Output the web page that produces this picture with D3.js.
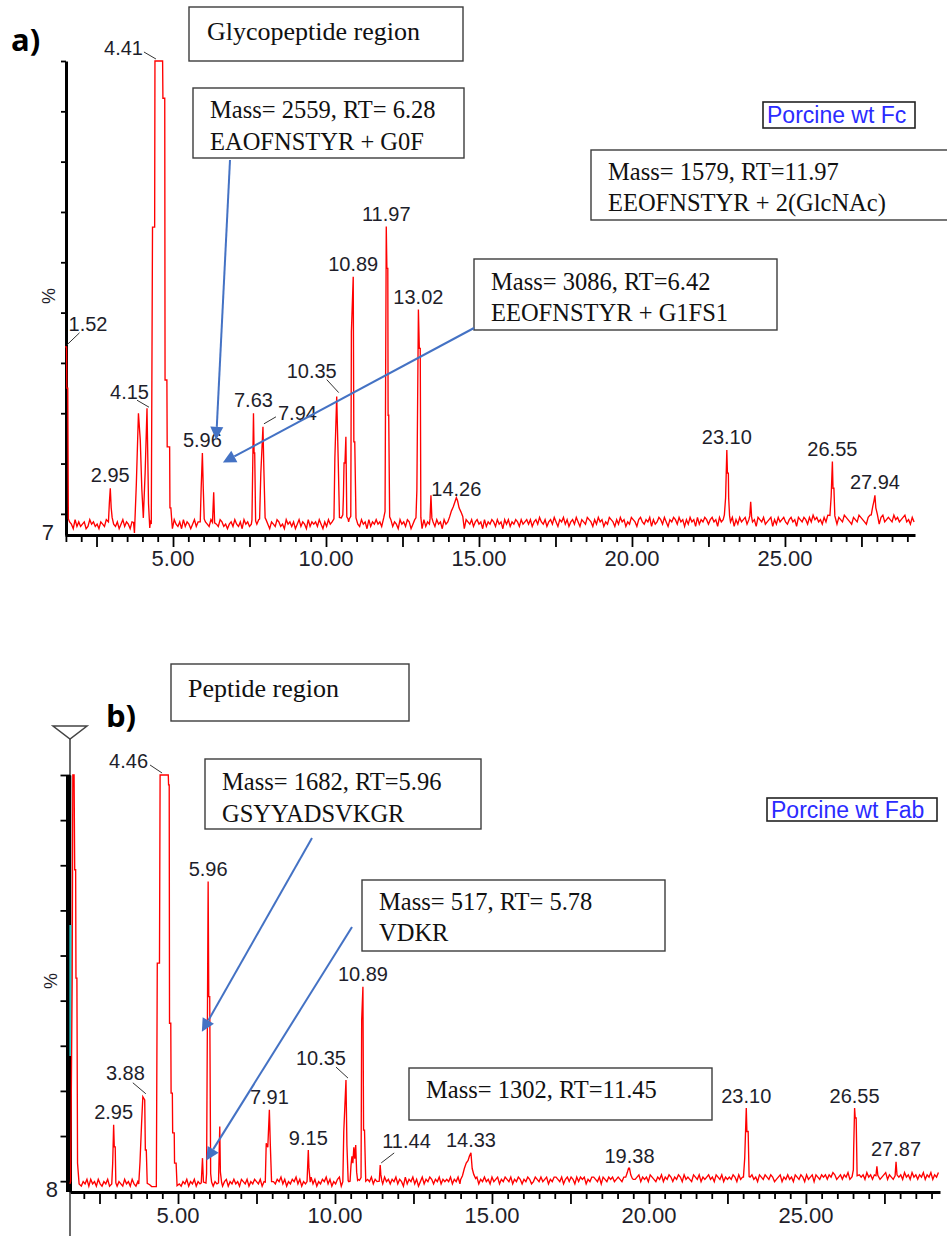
<!DOCTYPE html>
<html>
<head>
<meta charset="utf-8">
<script src="https://cdn.jsdelivr.net/npm/d3@7"></script>
<style>
  html, body { margin: 0; padding: 0; background: #fff; }
  svg { display: block; }
</style>
</head>
<body>
<svg id="chart" width="947" height="1236"></svg>
<script>
// ---------------- data ----------------
// y-axis tick values (% intensity) and labelled retention-time ticks (min)
const yTickValues = [10, 20, 30, 40, 50, 60, 70, 80, 90, 100];
const xLabelValues = [5, 10, 15, 20, 25];

// Baseline noise, one digit per scan (0.06 min apart); intensity = floor + digit * unit
const noiseFloorA = 6.6, noiseUnitA = 0.45, scanStartA = 1.50, scanStep = 0.06;
const noiseA = [
  3,2,4,3,1,5,2,4,2,3, 4,1,2,5,3,4,2,3,1,4, 3,2,5,1,4,2,3,2,4,1, 3,5,2,4,3,1,4,2,5,3, 1,4,2,3,5,2,4,1,3,2,
  4,2,3,1,5,3,2,4,1,5, 3,2,4,1,5,2,4,3,1,3, 5,2,4,2,3,1,4,3,2,5, 1,4,3,2,5,4,2,3,1,3, 4,2,5,3,2,4,1,5,3,4,
  2,3,1,4,3,5,2,4,2,5, 3,1,4,3,2,5,4,2,3,1, 5,3,4,2,4,1,3,5,2,4, 3,1,5,2,4,3,4,2,5,3, 1,4,2,5,3,4,2,3,1,5,
  4,3,5,2,4,1,3,5,4,3, 2,5,3,4,1,5,2,4,3,5, 3,4,2,5,1,4,3,5,2,4, 3,1,5,3,4,2,5,4,1,3, 5,2,4,3,1,5,2,4,3,5,
  4,2,5,3,4,1,5,3,4,2, 5,4,3,5,2,4,3,1,5,4, 3,5,2,4,5,3,4,1,5,2, 4,3,5,4,2,5,3,4,1,5, 3,5,2,4,3,5,4,2,5,3,
  4,5,3,5,2,4,5,3,6,4, 3,5,2,4,5,3,6,4,2,5, 4,6,3,5,2,4,5,3,6,4, 2,5,4,3,6,5,4,2,5,3, 6,4,5,2,4,3,6,5,4,2,
  5,3,6,4,5,2,4,3,6,5, 4,2,5,6,4,3,5,4,6,2, 5,3,4,6,5,3,6,4,2,5, 4,6,5,3,6,4,5,2,5,3, 6,4,5,2,6,3,5,4,6,5,
  3,5,6,4,5,2,6,4,5,3, 6,5,4,6,2,5,3,6,4,5, 6,3,5,6,4,5,2,6,5,4, 6,3,4,5,6,2,5,3,6,4, 5,6,4,3,5,6,4,5,2,6,
  5,4,6,5,3,6,4,7,5,6, 4,5,3,6,4,7,5,6,4,5, 3,6,5,4,7,6,5,4,3,6, 5,4,7,6,5,4,3,6,7,5, 4,6,5,3,6,7,4,5,6,5,
  4,7,5,6,4,5,6,7,4,5, 3,6,4
];

const noiseFloorB = 8.4, noiseUnitB = 0.5, scanStartB = 1.56;
const noiseB = [
  2,1,3,1,4,2,1,3,2,4, 1,4,2,3,1,4,2,1,3,2, 4,1,3,2,4,1,3,2,1,4, 2,3,1,4,2,1,3,2,4,1, 3,2,1,4,2,3,1,4,2,3,
  1,3,2,4,2,1,3,4,2,1, 3,2,4,1,3,2,4,1,3,2, 4,2,1,3,2,4,1,3,2,4, 2,1,3,4,1,3,2,4,2,3, 1,4,3,2,4,1,3,2,4,3,
  2,4,1,3,5,2,4,1,3,2, 4,3,5,2,4,1,3,2,4,3, 5,2,4,1,3,2,4,3,5,2, 4,1,3,2,4,3,5,2,4,1, 3,2,4,5,1,3,2,4,3,5,
  3,5,2,4,1,3,5,2,4,3, 5,2,4,3,1,4,2,5,3,4, 2,4,3,5,2,4,3,1,5,2, 4,3,5,2,4,1,3,5,2,4, 3,5,4,2,4,3,5,2,4,3,
  4,3,5,2,4,3,5,2,4,3, 5,4,2,5,3,4,5,2,4,3, 5,3,4,2,5,3,4,5,2,4, 3,5,4,3,5,2,4,3,5,4, 2,4,3,5,4,2,3,5,4,3,
  5,3,4,5,2,4,3,5,5,4, 3,5,2,4,5,3,5,4,2,5, 3,5,4,5,2,4,3,5,5,4, 3,5,2,5,4,3,5,4,5,3, 4,5,4,3,5,5,4,3,5,4,
  4,5,6,3,5,4,5,3,6,5, 4,3,5,4,6,3,5,4,6,5, 3,5,4,6,5,3,6,4,5,4, 3,6,5,4,6,3,5,4,5,6, 4,5,3,6,5,4,6,3,5,4,
  5,4,6,5,3,6,4,5,4,6, 3,5,6,4,5,3,6,5,4,6, 5,4,6,5,3,4,5,6,3,5, 4,6,4,5,3,6,5,4,6,5, 3,6,4,5,6,3,6,5,4,6,
  5,6,4,6,5,7,6,4,5,6, 4,6,5,7,4,6,5,4,7,6, 5,6,4,7,5,6,4,6,5,7, 4,5,6,7,4,6,5,4,7,6, 5,6,4,7,5,6,4,7,5,6,
  4,6,5,7,4,6,5,7,4,6, 5,7
];

// Peaks: retention time of the labelled apex, its label, and the scan profile [min, %]
const peaksA = [
  { rt: 1.52,  label: "1.52",  pts: [[1.47,43.2],[1.52,43.2],[1.53,35.0],[1.56,35.0],[1.58,9.0]] },
  { rt: 2.95,  label: "2.95",  pts: [[2.89,8.4],[2.92,12.2],[2.95,15.1],[2.98,11.2],[3.01,9.3]] },
  { rt: 4.15,  label: "4.15",  pts: [[3.71,8.3],[3.74,6.2],[3.80,15.7],[3.87,30.0],[3.93,24.7],[3.98,15.0],[4.03,9.2],[4.09,18.3],[4.15,31.0],[4.20,12.0],[4.24,7.2]] },
  { rt: 4.41,  label: "4.41",  pts: [[4.29,8.0],[4.33,67.0],[4.40,67.0],[4.41,100],[4.66,100],[4.67,92.6],[4.73,92.6],[4.74,36.6],[4.80,36.6],[4.81,23.3],[4.89,23.3],[4.90,11.2],[4.93,11.2],[4.96,8.6]] },
  { rt: 5.96,  label: "5.96",  pts: [[5.89,8.4],[5.92,15.0],[5.96,22.1],[5.99,14.9],[6.02,9.0]] },
  { rt: 6.33,  label: null,    pts: [[6.29,8.3],[6.33,14.3],[6.36,8.2]] },
  { rt: 7.63,  label: "7.63",  pts: [[7.58,8.8],[7.63,30.0],[7.65,22.1],[7.67,22.1],[7.70,8.6]] },
  { rt: 7.94,  label: "7.94",  pts: [[7.83,9.0],[7.87,18.1],[7.94,27.3],[7.97,18.7],[8.01,9.2]] },
  { rt: 10.35, label: "10.35", pts: [[10.26,9.0],[10.29,21.1],[10.35,33.3],[10.40,20.4],[10.44,9.3]] },
  { rt: 10.65, label: null,    pts: [[10.50,9.2],[10.55,9.8],[10.57,13.7],[10.59,20.1],[10.62,20.1],[10.65,25.3],[10.68,9.4],[10.72,9.0]] },
  { rt: 10.89, label: "10.89", pts: [[10.76,9.0],[10.81,9.5],[10.83,46.2],[10.89,57.1],[10.91,24.3],[10.94,24.3],[10.98,9.2]] },
  { rt: 11.97, label: "11.97", pts: [[11.89,9.3],[11.93,10.5],[11.97,67.1],[11.99,58.8],[12.02,58.8],[12.03,29.6],[12.05,29.6],[12.08,9.4]] },
  { rt: 13.02, label: "13.02", pts: [[12.94,9.2],[12.97,14.7],[13.02,50.6],[13.05,42.9],[13.08,42.9],[13.10,9.3]] },
  { rt: 13.43, label: null,    pts: [[13.40,9.0],[13.43,13.7],[13.46,9.2]] },
  { rt: 14.26, label: "14.26", pts: [[14.04,9.4],[14.10,10.6],[14.16,11.4],[14.21,12.3],[14.26,13.2],[14.30,12.6],[14.35,11.2],[14.41,10.4],[14.47,9.5]] },
  { rt: 23.10, label: "23.10", pts: [[23.02,9.8],[23.06,13.2],[23.10,22.7],[23.12,18.1],[23.15,18.1],[23.16,13.2],[23.19,9.6]] },
  { rt: 23.88, label: null,    pts: [[23.85,9.6],[23.88,12.4],[23.91,9.4]] },
  { rt: 26.55, label: "26.55", pts: [[26.47,9.7],[26.51,13.5],[26.55,20.4],[26.57,15.1],[26.60,15.1],[26.63,9.6]] },
  { rt: 27.94, label: "27.94", pts: [[27.82,9.8],[27.87,11.5],[27.91,12.6],[27.94,13.7],[27.97,11.2],[28.02,9.9]] }
];

const peaksB = [
  { rt: 1.67,  label: null,    pts: [[1.58,10.0],[1.63,55.0],[1.65,100],[1.69,100],[1.71,79.0],[1.74,79.0],[1.75,55.0],[1.78,55.0],[1.80,14.0],[1.85,9.4]] },
  { rt: 2.95,  label: "2.95",  pts: [[2.89,9.4],[2.92,14.0],[2.95,22.5],[2.97,17.6],[3.00,17.6],[3.02,9.6]] },
  { rt: 3.88,  label: "3.88",  pts: [[3.75,9.4],[3.79,14.3],[3.84,22.8],[3.88,28.7],[3.94,28.0],[3.96,16.9],[3.99,16.9],[4.02,9.5],[4.10,9.2],[4.16,8.8],[4.28,8.8]] },
  { rt: 4.46,  label: "4.46",  pts: [[4.31,8.8],[4.34,58.3],[4.41,58.3],[4.43,100],[4.46,100],[4.69,100],[4.70,97.8],[4.72,97.8],[4.73,45.0],[4.77,45.0],[4.78,29.5],[4.82,29.5],[4.83,20.7],[4.88,20.7],[4.89,14.0],[4.94,14.0],[4.97,9.0]] },
  { rt: 5.78,  label: null,    pts: [[5.74,9.6],[5.78,15.1],[5.81,9.8]] },
  { rt: 5.96,  label: "5.96",  pts: [[5.89,9.6],[5.91,11.7],[5.96,76.4],[5.98,50.9],[6.01,50.9],[6.04,11.7],[6.07,9.8]] },
  { rt: 6.33,  label: null,    pts: [[6.29,9.6],[6.33,22.1],[6.35,12.0],[6.39,9.7]] },
  { rt: 7.91,  label: "7.91",  pts: [[7.78,9.8],[7.81,18.4],[7.86,17.5],[7.91,25.8],[7.94,18.1],[7.98,9.9]] },
  { rt: 9.15,  label: "9.15",  pts: [[9.11,9.9],[9.15,16.9],[9.17,13.0],[9.21,9.8]] },
  { rt: 10.35, label: "10.35", pts: [[10.25,9.9],[10.28,21.0],[10.35,32.4],[10.38,18.0],[10.42,10.1]] },
  { rt: 10.60, label: null,    pts: [[10.48,10.0],[10.51,13.5],[10.54,15.5],[10.57,14.0],[10.60,17.5],[10.63,15.0],[10.66,18.0],[10.69,12.0],[10.72,10.2]] },
  { rt: 10.89, label: "10.89", pts: [[10.78,10.2],[10.83,10.8],[10.85,45.7],[10.89,53.1],[10.91,21.3],[10.94,21.3],[10.98,10.0]] },
  { rt: 11.44, label: "11.44", pts: [[11.41,10.0],[11.44,13.6],[11.46,11.5],[11.49,10.1]] },
  { rt: 14.33, label: "14.33", pts: [[14.00,10.3],[14.06,11.2],[14.12,12.8],[14.18,14.0],[14.24,14.6],[14.28,15.5],[14.33,16.3],[14.37,12.8],[14.42,11.5],[14.48,10.6]] },
  { rt: 19.38, label: "19.38", pts: [[19.26,10.9],[19.31,11.9],[19.35,12.9],[19.38,12.9],[19.42,11.4],[19.47,10.6]] },
  { rt: 23.10, label: "23.10", pts: [[23.01,10.9],[23.05,15.1],[23.10,26.2],[23.12,21.0],[23.16,21.0],[23.19,11.0]] },
  { rt: 26.55, label: "26.55", pts: [[26.47,11.0],[26.51,12.5],[26.52,16.9],[26.55,26.2],[26.57,24.0],[26.60,24.0],[26.63,11.2]] },
  { rt: 27.26, label: null,    pts: [[27.23,11.2],[27.26,13.3],[27.29,11.3]] },
  { rt: 27.87, label: "27.87", pts: [[27.84,11.2],[27.87,14.3],[27.90,11.4]] }
];

// Annotation arrows: tip in data units [min, %]
const arrowTipsA = [[6.41, 24.7], [6.63, 20.2]];
const arrowTipsB = [[5.76, 43.1], [5.90, 14.6]];

// ---------------- layout ----------------
const svg = d3.select("#chart");
svg.append("rect").attr("width", 947).attr("height", 1236).attr("fill", "#fff");

const SANS = "'Liberation Sans', Arial, sans-serif";
const SERIF = "'Liberation Serif', 'Times New Roman', serif";
const RED = "#ff0000";
const BLUE_ARROW = "#4472c4";
const LABEL_INK = "#1e1e2a";

// Labels that sit off to one side of their peak, with a short leader line
const leaderA = {
  "1.52":  { anchor: "start", dx: 2,   dy: -16, line: [0.5, -2, 13, -14] },
  "4.15":  { anchor: "end",   dx: 2,   dy: -9,  line: [-10, -8, 2, -1] },
  "4.41":  { anchor: "end",   dx: -12, dy: -6,  line: [-11, -9, 1, -2] },
  "7.94":  { anchor: "start", dx: 15,  dy: -7,  line: [1, -3, 13, -10] },
  "10.35": { anchor: "end",   dx: 0,   dy: -19, line: [-10, -17, 2, -4] },
  "14.26": { anchor: "middle", dx: 0,  dy: -2,  line: null }
};
const leaderB = {
  "4.46":  { anchor: "end",   dx: -13, dy: -7,  line: [-11, -10, 1, -2] },
  "3.88":  { anchor: "end",   dx: 2,   dy: -17, line: [-10, -14, 3, -3] },
  "10.35": { anchor: "end",   dx: 0,   dy: -15, line: [-10, -13, 2, -2] },
  "11.44": { anchor: "start", dx: 2,   dy: -17, line: [1, -2, 14, -12] }
};

function buildTrace(start, step, floor, unit, noise, peaks) {
  const windows = peaks.map(p => [p.pts[0][0], p.pts[p.pts.length - 1][0]]);
  const pts = [];
  noise.forEach((d, i) => {
    const t = start + i * step;
    const inPeak = windows.some(([a, b]) => t >= a - 0.012 && t <= b + 0.012);
    if (!inPeak) pts.push([t, floor + d * unit]);
  });
  peaks.forEach(p => p.pts.forEach(q => pts.push(q)));
  pts.sort((a, b) => a[0] - b[0]);
  return pts;
}

function drawArrow(g, x1, y1, x2, y2) {
  const ang = Math.atan2(y2 - y1, x2 - x1);
  const L = 13, W = 6.5;
  const bx = x2 - L * Math.cos(ang), by = y2 - L * Math.sin(ang);
  g.append("line")
    .attr("x1", x1).attr("y1", y1).attr("x2", bx).attr("y2", by)
    .attr("stroke", BLUE_ARROW).attr("stroke-width", 2);
  g.append("path")
    .attr("d", `M${x2},${y2}L${bx + W * Math.sin(ang)},${by - W * Math.cos(ang)}L${bx - W * Math.sin(ang)},${by + W * Math.cos(ang)}Z`)
    .attr("fill", BLUE_ARROW);
}

function drawBox(g, b) {
  g.append("rect")
    .attr("x", b.x).attr("y", b.y).attr("width", b.w).attr("height", b.h)
    .attr("fill", "#fff").attr("stroke", "#3c3c3c").attr("stroke-width", 1.4);
  b.lines.forEach((txt, i) => {
    g.append("text")
      .attr("x", b.x + b.pad).attr("y", b.base + i * b.lead)
      .attr("font-family", SERIF).attr("font-size", b.size).attr("fill", "#111")
      .text(txt);
  });
}

function drawTag(g, t) {
  g.append("rect")
    .attr("x", t.x).attr("y", t.y).attr("width", t.w).attr("height", t.h)
    .attr("fill", "#fff").attr("stroke", "#222").attr("stroke-width", 1.6);
  g.append("text")
    .attr("x", t.x + 4).attr("y", t.base)
    .attr("font-family", SANS).attr("font-size", 23).attr("fill", "#2b2bff")
    .text(t.text);
}

function drawPanel(p) {
  const x = d3.scaleLinear().domain(p.xDomain).range(p.xRange);
  const y = d3.scaleLinear().domain(p.yDomain).range(p.yRange);
  const g = svg.append("g");
  const axisY = p.yRange[0];

  // ---- x axis: 0.5 min ticks, taller every 2.5 min, labels every 5 min
  const first = Math.ceil(p.xDomain[0] * 2) / 2;
  const allTicks = d3.range(first, p.xDomain[1], 0.5).map(v => +v.toFixed(2));
  const isMajor = v => Math.abs(v / 2.5 - Math.round(v / 2.5)) < 1e-6;

  g.append("g")
    .attr("transform", `translate(0,${axisY})`)
    .call(d3.axisBottom(x).tickValues(allTicks.filter(v => !isMajor(v))).tickSize(7).tickSizeOuter(0).tickFormat(""))
    .call(a => a.select(".domain").attr("stroke", "#000").attr("stroke-width", 2.8))
    .call(a => a.selectAll(".tick line").attr("stroke", "#000").attr("stroke-width", 1.8));
  g.append("g")
    .attr("transform", `translate(0,${axisY})`)
    .call(d3.axisBottom(x).tickValues(allTicks.filter(isMajor)).tickSize(12).tickSizeOuter(0).tickFormat(""))
    .call(a => a.select(".domain").remove())
    .call(a => a.selectAll(".tick line").attr("stroke", "#000").attr("stroke-width", 1.8));

  g.append("g").selectAll("text")
    .data(xLabelValues)
    .join("text")
    .attr("x", d => x(d)).attr("y", axisY + 31)
    .attr("text-anchor", "middle")
    .attr("font-family", SANS).attr("font-size", 22).attr("fill", LABEL_INK)
    .text(d => d3.format(".2f")(d));

  // ---- y axis
  if (p.marker) {
    // scan marker above the axis and the axis spine running past the x axis
    g.append("line")
      .attr("x1", p.yAxisX).attr("x2", p.yAxisX).attr("y1", 739).attr("y2", 1236)
      .attr("stroke", "#444").attr("stroke-width", 1.6);
    g.append("path")
      .attr("d", `M${p.yAxisX - 17},726L${p.yAxisX + 17},726L${p.yAxisX},739Z`)
      .attr("fill", "#fff").attr("stroke", "#444").attr("stroke-width", 1.5);
  }
  g.append("g")
    .attr("transform", `translate(${p.yAxisX},0)`)
    .call(d3.axisLeft(y).tickValues(yTickValues).tickSize(p.yTickSize).tickSizeOuter(0).tickFormat(""))
    .call(a => a.select(".domain").attr("stroke", "#000").attr("stroke-width", p.yAxisWidth))
    .call(a => a.selectAll(".tick line").attr("stroke", "#000").attr("stroke-width", 1.8));

  if (p.marker) {
    const top = y(100);
    g.append("rect").attr("x", 66).attr("y", top).attr("width", 4.6).attr("height", axisY - top).attr("fill", "#000");
    g.append("rect").attr("x", 69.4).attr("y", 925).attr("width", 2.3).attr("height", 131).attr("fill", "#1fd3d3");
    g.append("rect").attr("x", 66).attr("y", 1056).attr("width", 6).attr("height", axisY - 1056).attr("fill", "#000");
  }

  // bottom-of-scale value and % caption
  g.append("text")
    .attr("x", p.yAxisX - 12).attr("y", axisY + 5)
    .attr("text-anchor", "end")
    .attr("font-family", SANS).attr("font-size", 22).attr("fill", LABEL_INK)
    .text(p.floorLabel);
  g.append("text")
    .attr("transform", `translate(${p.pctPos[0]},${p.pctPos[1]}) rotate(-90)`)
    .attr("text-anchor", "middle")
    .attr("font-family", SANS).attr("font-size", 18).attr("fill", LABEL_INK)
    .text("%");

  // ---- trace
  const trace = buildTrace(p.scanStart, scanStep, p.noiseFloor, p.noiseUnit, p.noise, p.peaks);
  g.append("path")
    .datum(trace)
    .attr("fill", "none")
    .attr("stroke", RED)
    .attr("stroke-width", 1.35)
    .attr("d", d3.line().x(d => x(d[0])).y(d => y(d[1])));

  // ---- peak labels
  const lg = g.append("g");
  p.peaks.filter(pk => pk.label).forEach(pk => {
    const apex = pk.pts.find(q => Math.abs(q[0] - pk.rt) < 1e-9);
    const ax = x(pk.rt), ay = y(apex[1]);
    const lay = p.leaders[pk.label] || { anchor: "middle", dx: 0, dy: p.labelDy, line: null };
    if (lay.line) {
      lg.append("line")
        .attr("x1", ax + lay.line[0]).attr("y1", ay + lay.line[1])
        .attr("x2", ax + lay.line[2]).attr("y2", ay + lay.line[3])
        .attr("stroke", "#333").attr("stroke-width", 1);
    }
    lg.append("text")
      .attr("x", ax + lay.dx).attr("y", ay + lay.dy)
      .attr("text-anchor", lay.anchor)
      .attr("font-family", SANS).attr("font-size", 20).attr("fill", LABEL_INK)
      .text(pk.label);
  });

  // ---- annotation boxes, tag and arrows
  const ag = g.append("g");
  p.boxes.forEach(b => drawBox(ag, b));
  drawTag(ag, p.tag);
  p.arrowTails.forEach((tail, i) => {
    const tip = p.arrowTips[i];
    drawArrow(ag, tail[0], tail[1], x(tip[0]), y(tip[1]));
  });

  // panel letter
  g.append("text")
    .attr("x", p.letterPos[0]).attr("y", p.letterPos[1])
    .attr("font-family", "'Open Sans', Lato, sans-serif").attr("font-weight", 700).attr("font-size", 31)
    .attr("fill", "#000")
    .text(p.letter);
}

drawPanel({
  xDomain: [1.47, 29.25], xRange: [65, 915],
  yDomain: [5.8, 100], yRange: [535, 61],
  yAxisX: 66, yTickSize: 5, yAxisWidth: 3, marker: false,
  floorLabel: "7", pctPos: [55, 296],
  scanStart: scanStartA, noiseFloor: noiseFloorA, noiseUnit: noiseUnitA, noise: noiseA,
  peaks: peaksA, leaders: leaderA, labelDy: -6,
  letter: "a)", letterPos: [11, 51],
  boxes: [
    { x: 189, y: 7,   w: 274, h: 54, pad: 18, base: 40,  lead: 0,  size: 26,   lines: ["Glycopeptide region"] },
    { x: 193, y: 88,  w: 271, h: 70, pad: 17, base: 118, lead: 32, size: 24.5, lines: ["Mass= 2559, RT= 6.28", "EAOFNSTYR + G0F"] },
    { x: 591, y: 150, w: 362, h: 70, pad: 17, base: 180, lead: 31, size: 24.5, lines: ["Mass= 1579, RT=11.97", "EEOFNSTYR + 2(GlcNAc)"] },
    { x: 474, y: 259, w: 303, h: 71, pad: 17, base: 290, lead: 31, size: 24.5, lines: ["Mass= 3086, RT=6.42", "EEOFNSTYR + G1FS1"] }
  ],
  tag: { x: 763, y: 102, w: 152, h: 26, base: 123, text: "Porcine wt Fc" },
  arrowTails: [[230, 160], [474, 328]],
  arrowTips: arrowTipsA
});

drawPanel({
  xDomain: [1.56, 29.27], xRange: [70, 940],
  yDomain: [7.6, 100], yRange: [1192, 775],
  yAxisX: 70, yTickSize: 9.5, yAxisWidth: 1.6, marker: true,
  floorLabel: "8", pctPos: [57, 981],
  scanStart: scanStartB, noiseFloor: noiseFloorB, noiseUnit: noiseUnitB, noise: noiseB,
  peaks: peaksB, leaders: leaderB, labelDy: -5.5,
  letter: "b)", letterPos: [106, 727],
  boxes: [
    { x: 171, y: 664,  w: 238, h: 57, pad: 17, base: 697,  lead: 0,  size: 26,   lines: ["Peptide region"] },
    { x: 205, y: 759,  w: 276, h: 70, pad: 17, base: 790,  lead: 32, size: 24.5, lines: ["Mass= 1682, RT=5.96", "GSYYADSVKGR"] },
    { x: 362, y: 880,  w: 303, h: 71, pad: 17, base: 910,  lead: 31, size: 24.5, lines: ["Mass= 517, RT= 5.78", "VDKR"] },
    { x: 409, y: 1068, w: 303, h: 52, pad: 17, base: 1098, lead: 0,  size: 24.5, lines: ["Mass= 1302, RT=11.45"] }
  ],
  tag: { x: 767, y: 798, w: 170, h: 23, base: 818, text: "Porcine wt Fab" },
  arrowTails: [[312, 838], [352, 927]],
  arrowTips: arrowTipsB
});
</script>
</body>
</html>
